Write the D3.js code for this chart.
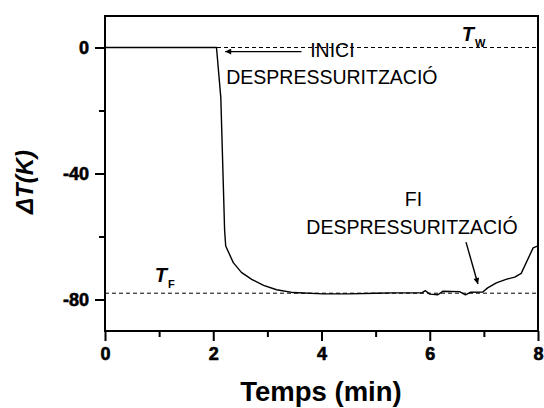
<!DOCTYPE html>
<html>
<head>
<meta charset="utf-8">
<script src="https://cdn.jsdelivr.net/npm/d3@7"></script>
<style>
  body { margin: 0; background: #fff; }
  svg { display: block; font-family: Arial, "Liberation Sans", sans-serif; }
</style>
</head>
<body>
<div id="chart"></div>
<script>
// time (min) and temperature difference (K)
const timeMin = [0, 2.06, 2.14, 2.21, 2.23, 2.37, 2.52, 2.71, 2.93, 3.17, 3.48, 4.03, 4.5, 5.0, 5.33, 5.85, 5.92, 6.0, 6.15, 6.24, 6.55, 6.66, 6.75, 6.98, 7.07, 7.23, 7.41, 7.57, 7.69, 7.91, 8.0];
const deltaT = [0, 0, -16, -58, -63, -68.3, -71.4, -73.6, -75.5, -76.9, -77.8, -78.2, -78.2, -78.0, -77.9, -77.9, -77.2, -78.3, -78.5, -77.4, -77.5, -78.5, -77.7, -77.6, -76.3, -74.7, -73.6, -72.9, -71.7, -63.6, -63];
const refLevels = [0, -78]; // T_W, T_F
const xTicks = [0, 2, 4, 6, 8];
const xMinor = [1, 3, 5, 7];
const yTicks = [0, -40, -80];
const yMinor = [-20, -60];

const width = 544, height = 408;
const margin = { top: 16, right: 6, bottom: 77, left: 105 };

const svg = d3.select("#chart").append("svg")
  .attr("width", width).attr("height", height);

const x = d3.scaleLinear().domain([0, 8]).range([margin.left, width - margin.right]);
const y = d3.scaleLinear().domain([-90, 10]).range([height - margin.bottom, margin.top]);

// arrowhead
svg.append("defs").append("marker")
  .attr("id", "arr")
  .attr("viewBox", "0 0 10 10")
  .attr("refX", 10).attr("refY", 5)
  .attr("markerWidth", 9).attr("markerHeight", 6)
  .attr("markerUnits", "userSpaceOnUse")
  .attr("orient", "auto")
  .append("path").attr("d", "M0,0L10,5L0,10Z").attr("fill", "#000");

// dashed reference lines
svg.append("g").selectAll("line").data(refLevels).join("line")
  .attr("x1", x(0)).attr("x2", x(8))
  .attr("y1", d => y(d)).attr("y2", d => y(d))
  .attr("stroke", "#000").attr("stroke-width", 1)
  .attr("stroke-dasharray", "4,3");

// data line
const pts = timeMin.map((t, i) => [t, deltaT[i]]);
svg.append("path")
  .datum(pts)
  .attr("fill", "none")
  .attr("stroke", "#000")
  .attr("stroke-width", 1.4)
  .attr("stroke-linejoin", "round")
  .attr("d", d3.line().x(d => x(d[0])).y(d => y(d[1])));

// frame
svg.append("rect")
  .attr("x", x(0)).attr("y", y(10))
  .attr("width", x(8) - x(0)).attr("height", y(-90) - y(10))
  .attr("fill", "none").attr("stroke", "#000").attr("stroke-width", 2);

// axes
const xAxis = svg.append("g")
  .attr("transform", `translate(0,${y(-90)})`)
  .call(d3.axisBottom(x).tickValues(xTicks).tickFormat(d3.format("d")).tickSize(10).tickPadding(6));
const xAxisMinor = svg.append("g")
  .attr("transform", `translate(0,${y(-90)})`)
  .call(d3.axisBottom(x).tickValues(xMinor).tickFormat("").tickSize(6));
const yAxis = svg.append("g")
  .attr("transform", `translate(${x(0)},0)`)
  .call(d3.axisLeft(y).tickValues(yTicks).tickFormat(d3.format("d")).tickSize(10).tickPadding(6));
const yAxisMinor = svg.append("g")
  .attr("transform", `translate(${x(0)},0)`)
  .call(d3.axisLeft(y).tickValues(yMinor).tickFormat("").tickSize(6));

[xAxis, xAxisMinor, yAxis, yAxisMinor].forEach(g => {
  g.attr("font-family", "Arial, 'Liberation Sans', sans-serif")
    .attr("font-size", 18).attr("font-weight", "bold");
  g.select(".domain").remove();
  g.selectAll(".tick line").attr("stroke", "#000").attr("stroke-width", 2);
  g.selectAll("text").attr("fill", "#000")
    .attr("stroke", "#000").attr("stroke-width", 0.6);
});
yAxis.selectAll("text").text(d => d === 0 ? "0" : "-" + Math.abs(d));

// axis titles
svg.append("text")
  .attr("x", (x(0) + x(8)) / 2 - 0.5).attr("y", 401)
  .attr("text-anchor", "middle")
  .style("font-size", "27.5px").style("font-weight", "bold")
  .text("Temps (min)");

svg.append("text")
  .attr("transform", `translate(33,${182}) rotate(-90)`)
  .attr("text-anchor", "middle")
  .style("font-size", "24px").style("font-weight", "bold").style("font-style", "italic")
  .text("ΔT(K)");

// T_W and T_F labels
function tempLabel(tx, ty, sub) {
  const t = svg.append("text")
    .attr("x", x(tx)).attr("y", y(ty))
    .style("font-size", "20px").style("font-weight", "bold").style("font-style", "italic")
    .text("T");
  t.append("tspan").attr("dy", 6).attr("dx", 1)
    .style("font-size", "11px").style("font-style", "normal")
    .text(sub);
}
tempLabel(6.59, 2, "W");
tempLabel(0.92, -74.4, "F");

// annotations
const note = (tx, ty, s) => svg.append("text")
  .attr("x", x(tx)).attr("y", y(ty))
  .style("font-size", "19.5px")
  .text(s);

note(3.79, -3.1, "INICI");
note(2.24, -11.6, "DESPRESSURITZACIÓ");
note(5.54, -50.3, "FI");
note(3.72, -59.1, "DESPRESSURITZACIÓ");

svg.append("line")
  .attr("x1", x(3.63)).attr("y1", y(-1.3))
  .attr("x2", x(2.22)).attr("y2", y(-1.3))
  .attr("stroke", "#000").attr("stroke-width", 1.4)
  .attr("marker-end", "url(#arr)");

svg.append("line")
  .attr("x1", x(6.67)).attr("y1", y(-61.8))
  .attr("x2", x(6.89)).attr("y2", y(-75.1))
  .attr("stroke", "#000").attr("stroke-width", 1.4)
  .attr("marker-end", "url(#arr)");
</script>
</body>
</html>
